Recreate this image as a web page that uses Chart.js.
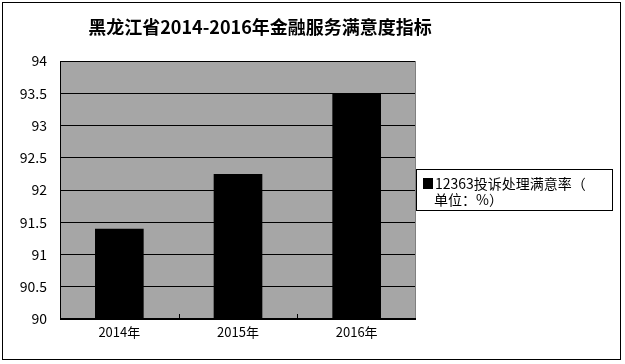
<!DOCTYPE html>
<html>
<head>
<meta charset="utf-8">
<script src="https://cdn.jsdelivr.net/npm/chart.js@4/dist/chart.umd.min.js"></script>
<style>
  html, body { margin: 0; padding: 0; background: #fff; }
  #wrap { width: 625px; height: 364px; position: relative; }
</style>
</head>
<body>
<div id="wrap"><canvas id="chart"></canvas></div>
<script>
// Chart data
const chartTitle = '黑龙江省2014-2016年金融服务满意度指标';
const years = ['2014年', '2015年', '2016年'];
const satisfaction = [91.4, 92.25, 93.5];
const legendLines = ['12363投诉处理满意率（', '单位：%）'];

const FONT = "'Noto Sans CJK SC', 'DejaVu Sans', sans-serif";

// Frame, title, plot background, inward ticks and boxed legend
const decorPlugin = {
    id: 'decor',
    beforeDraw(chart) {
        const { ctx, chartArea: a } = chart;
        ctx.save();
        ctx.fillStyle = '#fff';
        ctx.fillRect(0, 0, chart.width, chart.height);
        ctx.fillStyle = '#a6a6a6';
        ctx.fillRect(a.left, a.top, a.right - a.left, a.bottom - a.top);
        ctx.restore();
    },
    afterDraw(chart) {
        const { ctx, chartArea: a } = chart;
        const x = chart.scales.x;
        ctx.save();
        // outer frame
        ctx.strokeStyle = '#000';
        ctx.lineWidth = 1;
        ctx.strokeRect(2.5, 2.5, 618, 357);

        // plot border: dark top/left, gray right
        ctx.beginPath();
        ctx.moveTo(a.left + 0.5, a.bottom);
        ctx.lineTo(a.left + 0.5, a.top + 0.5);
        ctx.lineTo(a.right, a.top + 0.5);
        ctx.stroke();
        ctx.strokeStyle = '#808080';
        ctx.beginPath();
        ctx.moveTo(a.right - 0.5, a.top);
        ctx.lineTo(a.right - 0.5, a.bottom);
        ctx.stroke();

        // x axis line + inward category ticks
        ctx.strokeStyle = '#000';
        ctx.beginPath();
        ctx.moveTo(a.left, a.bottom - 0.5);
        ctx.lineTo(a.right, a.bottom - 0.5);
        for (let i = 1; i < years.length; i++) {
            const px = Math.round((x.getPixelForValue(i - 1) + x.getPixelForValue(i)) / 2) + 0.5;
            ctx.moveTo(px, a.bottom);
            ctx.lineTo(px, a.bottom - 5);
        }
        ctx.stroke();

        // title
        ctx.fillStyle = '#000';
        ctx.font = 'bold 18px ' + FONT;
        ctx.textAlign = 'center';
        ctx.textBaseline = 'middle';
        ctx.fillText(chartTitle, 260, 27);

        // legend box
        ctx.strokeRect(416.5, 169.5, 196, 41);
        ctx.font = '14px ' + FONT;
        ctx.textAlign = 'left';
        ctx.fillRect(423, 178, 10, 11);
        ctx.fillText(legendLines[0], 435, 184);
        ctx.fillText(legendLines[1], 434, 200);
        ctx.restore();
    }
};

new Chart(document.getElementById('chart'), {
    type: 'bar',
    data: {
        labels: years,
        datasets: [{
            label: legendLines.join(''),
            data: satisfaction,
            backgroundColor: '#000',
            borderWidth: 0,
            barPercentage: 0.41,
            categoryPercentage: 1
        }]
    },
    options: {
        responsive: true,
        maintainAspectRatio: false,
        animation: false,
        layout: { padding: { top: 61, right: 209, left: 0, bottom: 0 } },
        plugins: {
            legend: { display: false },
            title: { display: false },
            tooltip: { enabled: false }
        },
        scales: {
            x: {
                grid: { display: false, drawTicks: false },
                border: { display: false },
                ticks: { color: '#000', font: { family: FONT, size: 13 }, padding: 5 },
                afterFit(s) { s.height = 45; }
            },
            y: {
                min: 90,
                max: 94,
                ticks: {
                    stepSize: 0.5,
                    color: '#000',
                    font: { family: FONT, size: 14 },
                    padding: 13,
                    callback: v => String(v)
                },
                grid: { color: '#000', lineWidth: 1, drawTicks: false },
                border: { display: false },
                afterFit(s) { s.width = 60; }
            }
        }
    },
    plugins: [decorPlugin]
});
</script>
</body>
</html>
